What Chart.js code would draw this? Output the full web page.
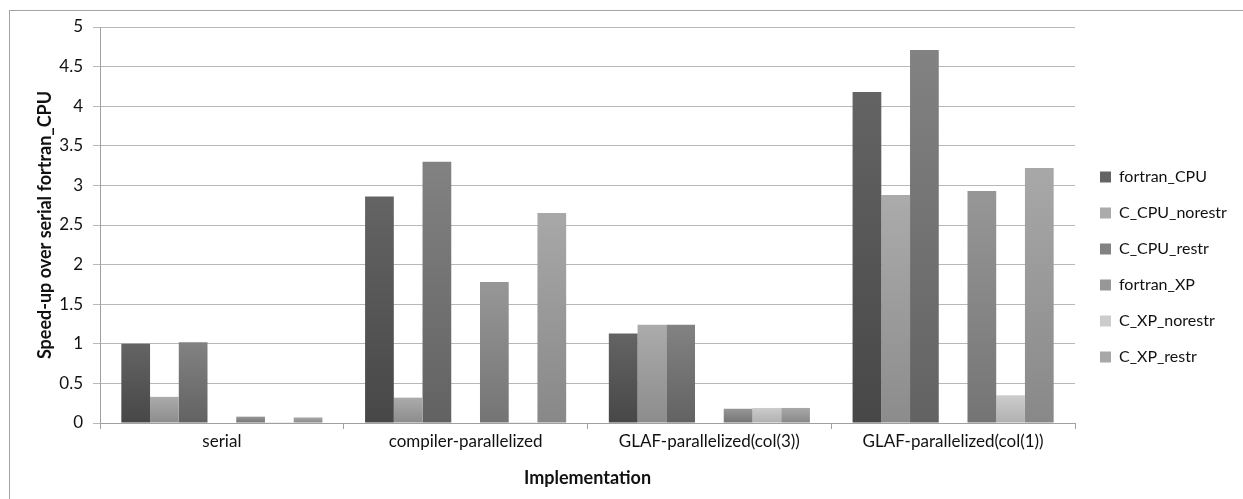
<!DOCTYPE html>
<html>
<head>
<meta charset="utf-8">
<script src="https://cdn.jsdelivr.net/npm/chart.js@4/dist/chart.umd.min.js"></script>
<style>
  html, body { margin: 0; padding: 0; background: #fff; overflow: hidden; }
  #frame { position: absolute; left: 9px; top: 10px; width: 1400px; height: 700px; border: 1px solid #a3a3a3; }
  #chart { position: absolute; left: 0; top: 0; }
</style>
</head>
<body>
<div id="frame"></div>
<canvas id="chart" width="1243" height="499"></canvas>
<script>
// categories and series
const categories = ["serial", "compiler-parallelized", "GLAF-parallelized(col(3))", "GLAF-parallelized(col(1))"];
const fortranCPU  = [1.00, 2.86, 1.13, 4.18];
const cCPUNorestr = [0.33, 0.32, 1.24, 2.88];
const cCPURestr   = [1.02, 3.30, 1.24, 4.71];
const emptySlot   = [null, null, null, null]; // the original leaves one empty column here
const fortranXP   = [0.08, 1.78, 0.18, 2.93];
const cXPNorestr  = [0.01, 0.01, 0.19, 0.35];
const cXPRestr    = [0.07, 2.65, 0.19, 3.22];
const yTicks      = [0, 0.5, 1, 1.5, 2, 2.5, 3, 3.5, 4, 4.5, 5];

const FONT = "Lato, 'Liberation Sans', sans-serif";

// vertical gradient for each bar, flat colour for the legend box
const shade = (top, bottom, flat) => (c) => {
    const y = c.chart.scales && c.chart.scales.y;
    if (c.type !== "data" || c.raw == null || !y) return flat;
    const y0 = y.getPixelForValue(c.raw), y1 = y.getPixelForValue(0);
    if (!Number.isFinite(y0) || !Number.isFinite(y1)) return flat;
    const g = c.chart.ctx.createLinearGradient(0, y0, 0, y1);
    g.addColorStop(0, top);
    g.addColorStop(1, bottom);
    return g;
};

const series = (label, data, top, bottom, flat) => ({
    label, data,
    backgroundColor: shade(top, bottom, flat),
    borderWidth: 0
});

// legend sits in a fixed-width column to the right of the plot
const legendColumn = {
    id: "legendColumn",
    afterInit(chart) {
        const lg = chart.legend;
        const fit = lg.fit;
        lg.fit = function () { fit.call(this); this.width = 168; };
    },
    afterLayout(chart) {
        const lg = chart.legend;
        lg.left += 5; lg.right += 5;
        lg.top += 4; lg.bottom += 4;
    }
};

new Chart(document.getElementById("chart"), {
    type: "bar",
    data: {
        labels: categories,
        datasets: [
            series("fortran_CPU", fortranCPU, "#646464", "#474747", "#585858"),
            series("C_CPU_norestr", cCPUNorestr, "#ababab", "#8c8c8c", "#a0a0a0"),
            series("C_CPU_restr", cCPURestr, "#828282", "#626262", "#747474"),
            series("", emptySlot, "#fff", "#fff", "#fff"),
            series("fortran_XP", fortranXP, "#979797", "#747474", "#8a8a8a"),
            series("C_XP_norestr", cXPNorestr, "#cccccc", "#b0b0b0", "#c0c0c0"),
            series("C_XP_restr", cXPRestr, "#a8a8a8", "#888888", "#9c9c9c")
        ]
    },
    options: {
        responsive: false,
        animation: false,
        layout: { padding: { top: 27, right: 0, bottom: 0, left: 0 } },
        datasets: { bar: { categoryPercentage: 0.825, barPercentage: 1 } },
        plugins: {
            tooltip: { enabled: false },
            legend: {
                position: "right",
                labels: {
                    boxWidth: 11, boxHeight: 11, padding: 20,
                    color: "#111", font: { family: FONT, size: 16 },
                    filter: (item) => item.text !== ""
                }
            }
        },
        scales: {
            x: {
                afterFit: (s) => { s.height = 76; },
                grid: { display: true, drawOnChartArea: false, offset: true, tickLength: 6, color: "#a0a0a0" },
                border: { color: "#a0a0a0" },
                ticks: { color: "#111", padding: 2, font: { family: FONT, size: 17 } },
                title: {
                    display: true, text: "Implementation", color: "#111",
                    font: { family: FONT, size: 18, weight: "bold" },
                    padding: { top: 0, bottom: 10 }
                }
            },
            y: {
                min: 0, max: 5,
                afterFit: (s) => { s.width = 100; },
                afterBuildTicks: (s) => { s.ticks = yTicks.map((v) => ({ value: v })); },
                grid: { color: "#b8b8b8", tickLength: 7 },
                border: { color: "#a0a0a0" },
                ticks: {
                    color: "#111", padding: 10, font: { family: FONT, size: 17 },
                    callback: (v) => String(v)
                },
                title: {
                    display: true, text: "Speed-up over serial fortran_CPU", color: "#111",
                    font: { family: FONT, size: 18, weight: "bold" },
                    padding: { top: 34, bottom: 0 }
                }
            }
        }
    },
    plugins: [legendColumn]
});
</script>
</body>
</html>
